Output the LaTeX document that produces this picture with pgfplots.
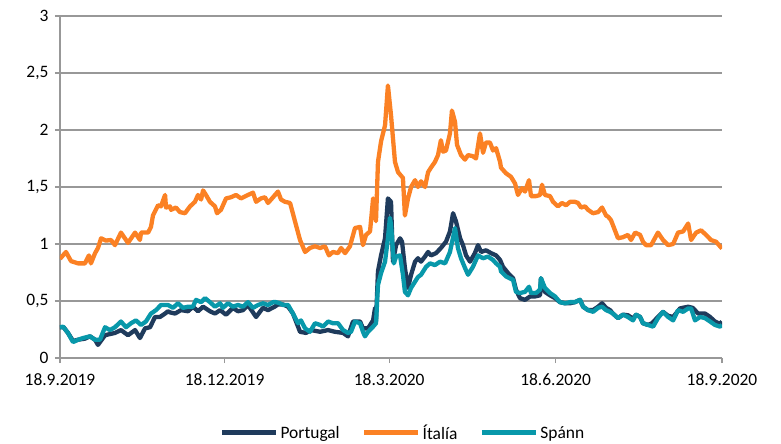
\documentclass[border=0pt]{standalone}
\usepackage{fontspec}
\setmainfont{Carlito}
\usepackage{pgfplots}
\usepackage{pgfplotstable}
\pgfplotsset{compat=1.18}
\definecolor{ptblue}{HTML}{1F3B5C}
\definecolor{itorange}{HTML}{FB8124}
\definecolor{esteal}{HTML}{0898AA}
\definecolor{gridgray}{HTML}{989898}

% days since 18.9.2019, spread
\pgfplotstableread{
d v
0 0.27
2.0 0.27
4.4 0.22
7.2 0.15
10.0 0.16
13.8 0.17
16.6 0.19
19.4 0.16
21.0 0.115
24.9 0.20
30.4 0.22
33.7 0.245
37.6 0.20
41.5 0.245
44.2 0.175
47.0 0.26
49.8 0.27
52.5 0.36
55.3 0.36
58.1 0.39
59.7 0.41
60.8 0.40
63.6 0.39
66.9 0.42
70.8 0.41
73.5 0.45
76.3 0.41
79.1 0.45
82.9 0.41
85.7 0.39
88.5 0.42
91.8 0.38
95.6 0.44
98.4 0.41
101.2 0.42
103.9 0.465
108.4 0.36
112.2 0.44
115.0 0.42
118.7 0.45
120.5 0.47
123.3 0.47
126.1 0.45
128.8 0.39
132.7 0.23
136.0 0.22
138.8 0.245
143.8 0.23
148.2 0.245
152.0 0.23
156.5 0.22
159.2 0.19
162.0 0.32
165.9 0.32
167.5 0.26
170.3 0.26
173.1 0.33
174.2 0.44
174.7 0.32
175.8 0.76
177.5 0.90
179.7 1.05
181.3 1.40
183.0 1.37
184.1 0.845
185.8 0.99
188.0 1.05
189.1 1.02
190.7 0.79
192.4 0.615
194.1 0.73
196.3 0.845
197.9 0.875
199.6 0.845
201.8 0.89
203.5 0.93
205.1 0.90
207.9 0.92
210.6 0.965
213.4 1.02
215.6 1.11
217.3 1.27
218.9 1.20
221.2 1.05
222.8 0.99
224.5 0.90
226.7 0.845
229.4 0.92
231.1 0.99
232.8 0.93
235.5 0.945
238.3 0.92
241.1 0.90
243.3 0.86
244.9 0.80
247.7 0.745
250.5 0.70
252.1 0.60
254.3 0.525
257.1 0.51
259.9 0.54
262.6 0.54
265.4 0.55
265.9 0.70
268.1 0.58
270.9 0.55
273.7 0.525
276.4 0.49
279.2 0.48
282.0 0.48
284.7 0.49
287.5 0.51
289.2 0.45
291.9 0.42
294.7 0.42
297.5 0.45
299.7 0.48
301.9 0.44
304.1 0.42
305.7 0.39
308.5 0.35
311.3 0.38
314.0 0.375
316.8 0.345
318.5 0.38
320.7 0.36
322.3 0.305
325.1 0.29
327.3 0.305
330.6 0.36
333.4 0.405
336.2 0.37
339.0 0.36
342.8 0.435
347.3 0.45
349.8 0.44
352.8 0.39
356.6 0.39
359.4 0.36
362.1 0.32
364.9 0.30
366 0.32
}\portugal

\pgfplotstableread{
d v
0 0.87
3.3 0.93
6.1 0.85
10.0 0.83
13.8 0.83
16.0 0.90
17.1 0.83
19.4 0.92
21.0 0.965
22.7 1.05
25.4 1.03
28.2 1.035
30.4 0.99
33.7 1.10
37.6 1.01
41.5 1.10
44.2 1.035
44.8 1.10
48.7 1.10
50.3 1.15
51.4 1.25
54.2 1.34
55.8 1.33
58.1 1.43
58.6 1.32
60.8 1.33
61.4 1.30
64.1 1.32
66.3 1.28
69.1 1.27
71.9 1.33
74.6 1.37
76.3 1.43
78.0 1.39
79.1 1.47
80.7 1.43
82.9 1.37
85.7 1.33
86.8 1.27
89.0 1.30
91.8 1.40
94.5 1.41
97.3 1.43
100.1 1.40
103.9 1.43
106.7 1.45
108.4 1.37
111.1 1.40
113.3 1.41
115.0 1.36
117.8 1.41
120.5 1.46
122.2 1.39
124.4 1.37
127.2 1.36
129.9 1.20
132.7 1.035
135.5 0.93
138.2 0.965
141.0 0.98
143.8 0.965
146.5 0.98
148.7 0.90
150.9 0.93
153.7 0.92
155.4 0.965
157.6 0.92
160.3 0.98
163.1 1.14
165.9 1.15
167.5 0.99
169.2 1.08
171.4 1.11
173.1 1.40
174.7 1.20
175.8 1.72
177.5 1.90
179.7 2.04
181.3 2.39
183.0 2.13
185.2 1.72
186.9 1.63
188.5 1.60
189.6 1.58
190.7 1.25
192.4 1.40
194.1 1.50
196.3 1.56
197.9 1.50
199.6 1.55
201.8 1.50
203.5 1.63
205.1 1.67
207.3 1.72
209.0 1.78
210.6 1.91
211.8 1.81
213.4 1.82
215.6 1.97
216.7 2.17
218.4 2.07
219.5 1.87
221.7 1.78
223.9 1.74
225.6 1.78
228.3 1.77
230.0 1.75
232.2 1.97
233.9 1.80
235.5 1.89
237.7 1.89
239.4 1.82
241.1 1.84
243.3 1.72
243.8 1.67
246.6 1.62
249.3 1.59
251.6 1.53
253.2 1.43
255.4 1.49
257.1 1.46
259.3 1.56
260.4 1.42
263.2 1.42
265.4 1.43
266.5 1.52
268.1 1.43
270.9 1.42
272.6 1.37
275.3 1.33
277.5 1.36
279.8 1.34
282.0 1.37
284.7 1.37
286.4 1.36
288.1 1.32
290.3 1.33
291.9 1.30
294.7 1.27
297.5 1.28
299.7 1.32
301.9 1.25
303.0 1.24
304.6 1.21
306.8 1.12
308.5 1.05
311.3 1.06
314.0 1.08
315.7 1.035
318.0 1.10
320.7 1.08
322.3 1.02
324.0 0.99
326.8 0.99
330.6 1.10
333.4 1.035
336.2 0.99
339.0 1.00
341.7 1.10
344.5 1.11
347.3 1.18
348.9 1.035
351.7 1.10
354.4 1.12
357.2 1.08
359.9 1.035
362.7 1.02
366 0.96
}\italia

\pgfplotstableread{
d v
0 0.27
1.7 0.275
4.4 0.22
7.2 0.14
10.0 0.16
12.7 0.175
16.6 0.19
19.4 0.16
22.1 0.16
24.9 0.27
27.6 0.245
30.4 0.27
33.7 0.32
36.5 0.27
39.3 0.305
42.0 0.33
44.8 0.29
47.5 0.32
50.3 0.39
53.1 0.42
55.8 0.465
59.7 0.465
62.5 0.44
65.2 0.48
68.0 0.44
70.8 0.45
73.5 0.45
75.2 0.51
78.0 0.49
80.2 0.525
82.9 0.49
85.7 0.45
88.5 0.48
90.1 0.44
92.9 0.48
95.6 0.45
98.4 0.465
101.2 0.45
103.9 0.49
106.7 0.44
109.5 0.465
112.2 0.48
115.0 0.465
117.8 0.49
119.4 0.49
121.6 0.48
123.3 0.465
126.1 0.465
128.8 0.39
131.6 0.305
133.2 0.33
135.5 0.26
138.2 0.23
141.0 0.305
143.8 0.29
145.4 0.275
148.2 0.32
150.9 0.305
153.7 0.305
156.5 0.245
159.2 0.22
160.9 0.23
163.1 0.32
165.9 0.305
167.5 0.23
168.6 0.19
170.3 0.23
173.1 0.275
174.7 0.305
175.8 0.64
177.5 0.745
179.7 0.845
181.3 1.05
182.4 1.23
183.0 1.17
184.6 0.83
185.8 0.89
188.0 0.90
189.6 0.73
190.7 0.58
192.4 0.55
194.1 0.615
196.3 0.67
197.9 0.71
199.6 0.73
202.4 0.80
204.6 0.83
207.3 0.815
210.1 0.845
212.9 0.83
215.6 0.93
218.4 1.14
220.0 0.965
221.7 0.875
223.9 0.79
225.6 0.73
228.3 0.80
231.1 0.90
233.9 0.875
236.6 0.89
239.4 0.86
241.1 0.83
243.3 0.80
243.8 0.76
246.6 0.715
250.5 0.685
252.1 0.58
254.3 0.57
257.1 0.58
259.3 0.625
260.4 0.57
263.2 0.57
265.4 0.60
265.9 0.70
268.1 0.615
270.9 0.57
273.7 0.54
276.4 0.49
279.2 0.48
282.0 0.49
284.7 0.49
287.5 0.51
289.2 0.45
291.9 0.42
294.7 0.405
297.5 0.44
299.7 0.45
301.9 0.42
304.1 0.405
305.7 0.39
308.5 0.35
311.3 0.38
314.0 0.36
316.8 0.33
318.5 0.38
320.7 0.36
322.3 0.305
325.1 0.29
327.9 0.275
330.6 0.35
333.4 0.405
336.2 0.36
339.0 0.33
341.7 0.42
344.5 0.405
347.3 0.435
348.9 0.435
351.1 0.33
353.9 0.36
356.6 0.35
359.4 0.32
362.1 0.29
364.9 0.275
366 0.29
}\spann

\begin{document}
\begin{tikzpicture}
\begin{axis}[
  name=ax,
  scale only axis,
  width=662bp, height=342bp,
  xmin=0, xmax=366, ymin=0, ymax=3,
  axis x line*=bottom, axis y line*=left,
  axis line style={gridgray, line width=1.5bp, -},
  xtick={0,91,182,274,366},
  xticklabels={18.9.2019,18.12.2019,18.3.2020,18.6.2020,18.9.2020},
  ytick={0,0.5,1,1.5,2,2.5,3},
  ymajorgrids,
  major grid style={gridgray, line width=1.5bp},
  tick style={gridgray, line width=1.3bp},
  tick align=outside,
  major tick length=5bp,
  yticklabel style={/pgf/number format/.cd, use comma, assume math mode=true},
  ticklabel style={font=\fontsize{17.5}{21}\selectfont, text=black},
  xticklabel shift=7bp,
  yticklabel shift=3bp,
  legend style={at={(0.518,-0.219)}, anchor=center, legend columns=3,
    draw=none, fill=none, font=\fontsize{17.5}{21}\selectfont,
    /tikz/every even column/.append style={column sep=20bp}},
  legend image code/.code={\draw[#1, line width=5bp] (0bp,0bp) -- (54bp,0bp);},
]
\addplot[ptblue, line width=4.3bp, line join=round] table[x=d, y=v] {\portugal};
\addplot[itorange, line width=4.3bp, line join=round] table[x=d, y=v] {\italia};
\addplot[esteal, line width=4.3bp, line join=round] table[x=d, y=v] {\spann};
\legend{Portugal, Ítalía, Spánn}
\end{axis}
\pgfresetboundingbox
\path[use as bounding box] ([xshift=-60bp,yshift=-86bp]ax.south west) rectangle ([xshift=59bp,yshift=16bp]ax.north east);
\end{tikzpicture}
\end{document}
